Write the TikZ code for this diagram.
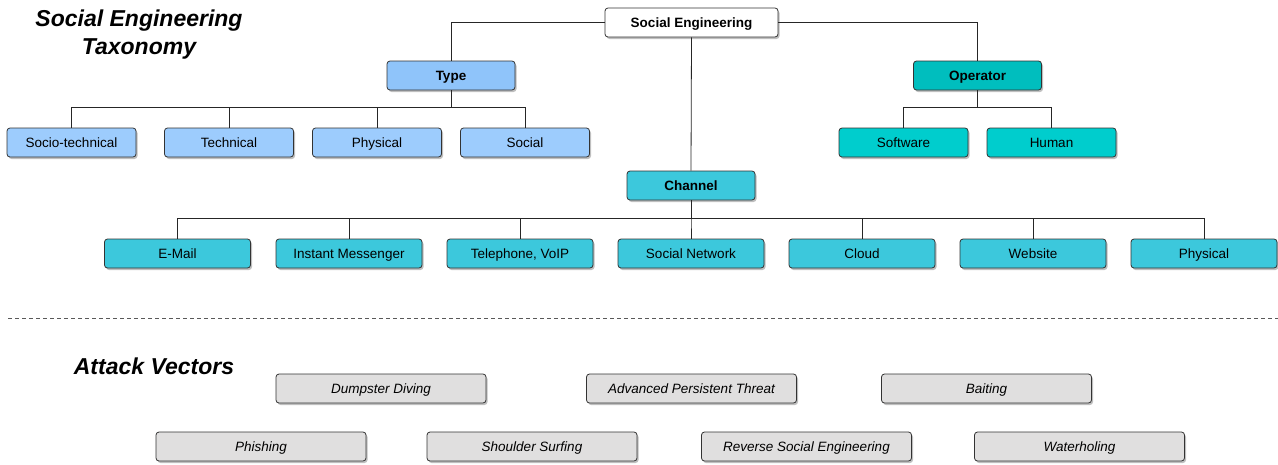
\documentclass[tikz,border=0pt]{standalone}
\usepackage{fontspec}
\setmainfont{Liberation Sans}
\usetikzlibrary{shadows}

\definecolor{typeblue}{RGB}{143,196,250}
\definecolor{typelight}{RGB}{157,204,253}
\definecolor{opteal}{RGB}{0,190,190}
\definecolor{oplight}{RGB}{0,205,205}
\definecolor{chancyan}{RGB}{60,200,220}
\definecolor{vecgray}{RGB}{224,223,223}

\begin{document}
\begin{tikzpicture}[x=1pt,y=-1pt,font=\fontsize{13.5}{16}\selectfont,
                    line width=0.8pt]
  \tikzstyle{box}=[draw=black!80,rounded corners=3pt,minimum height=29pt,
                   inner sep=0pt,text height=9.7pt,text depth=0pt,
                   drop shadow={shadow xshift=1.5pt,shadow yshift=-2pt,
                                opacity=.25,fill=black}]
  \tikzstyle{head}=[box,font=\fontsize{13.5}{16}\selectfont\bfseries,
                    minimum width=128pt]
  \tikzstyle{leaf}=[box,minimum width=129pt]
  \tikzstyle{chanleaf}=[box,fill=chancyan,minimum width=146pt]
  \tikzstyle{vector}=[box,fill=vecgray,minimum width=210pt,
                      font=\fontsize{13.5}{16}\selectfont\itshape]
  \tikzstyle{caption}=[font=\fontsize{23}{28}\selectfont\bfseries\itshape,
                       align=center]
  \tikzstyle{branch}=[draw=black!85,
                      to path={(\tikztostart.south) |- ([yshift=20pt]\tikztotarget.north)
                               -- (\tikztotarget.north)}]

  \useasboundingbox (0,0) rectangle (1278,464);

  \node[caption] (title) at (139,35) {Social Engineering\\Taxonomy};

  \node[head,fill=white,minimum width=173pt] (root) at (691.5,22.5) {Social Engineering};
  \node[head,fill=typeblue] (type) at (451,75.5)  {Type};
  \node[head,fill=opteal]   (op)   at (977.5,75.5) {Operator};
  \node[head,fill=chancyan] (chan) at (691,185.5) {Channel};

  \node[leaf,fill=typelight] (socio) at (71.5,142.5) {Socio-technical};
  \node[leaf,fill=typelight] (tech)  at (229,142.5)  {Technical};
  \node[leaf,fill=typelight] (phys)  at (377,142.5)  {Physical};
  \node[leaf,fill=typelight] (soc)   at (525,142.5)  {Social};

  \node[leaf,fill=oplight] (soft)  at (903.5,142.5)  {Software};
  \node[leaf,fill=oplight] (human) at (1051.5,142.5) {Human};

  \node[chanleaf] (mail)  at (177.5,253.5) {E-Mail};
  \node[chanleaf] (im)    at (349,253.5)   {Instant Messenger};
  \node[chanleaf] (voip)  at (520,253.5)   {Telephone, VoIP};
  \node[chanleaf] (sn)    at (691,253.5)   {Social Network};
  \node[chanleaf] (cloud) at (862,253.5)   {Cloud};
  \node[chanleaf] (web)   at (1033,253.5)  {Website};
  \node[chanleaf] (cphys) at (1204,253.5)  {Physical};

  \draw[black!85] (root.west) -| (type.north);
  \draw[black!85] (root.east) -| (op.north);
  \draw[black!85] (root.south) -- (chan.north);

  \path (type) edge[branch] (socio)
               edge[branch] (tech)
               edge[branch] (phys)
               edge[branch] (soc)
        (op)   edge[branch] (soft)
               edge[branch] (human)
        (chan) edge[branch] (mail)
               edge[branch] (im)
               edge[branch] (voip)
               edge[branch] (sn)
               edge[branch] (cloud)
               edge[branch] (web)
               edge[branch] (cphys);

  \coordinate (sepl) at (8,318);
  \coordinate (sepr) at (1278,318);
  \draw[black!65,line width=0.7pt,dash pattern=on 4pt off 3pt] (sepl) -- (sepr);

  \node[caption] (attack) at (154,366) {Attack Vectors};

  \node[vector] (dump)  at (381,388.5)    {Dumpster Diving};
  \node[vector] (apt)   at (691.5,388.5)  {Advanced Persistent Threat};
  \node[vector] (bait)  at (986.5,388.5)  {Baiting};
  \node[vector] (phish) at (261,446.5)    {Phishing};
  \node[vector] (surf)  at (532,446.5)    {Shoulder Surfing};
  \node[vector] (rse)   at (806.5,446.5)  {Reverse Social Engineering};
  \node[vector] (water) at (1079.5,446.5) {Waterholing};
\end{tikzpicture}
\end{document}
